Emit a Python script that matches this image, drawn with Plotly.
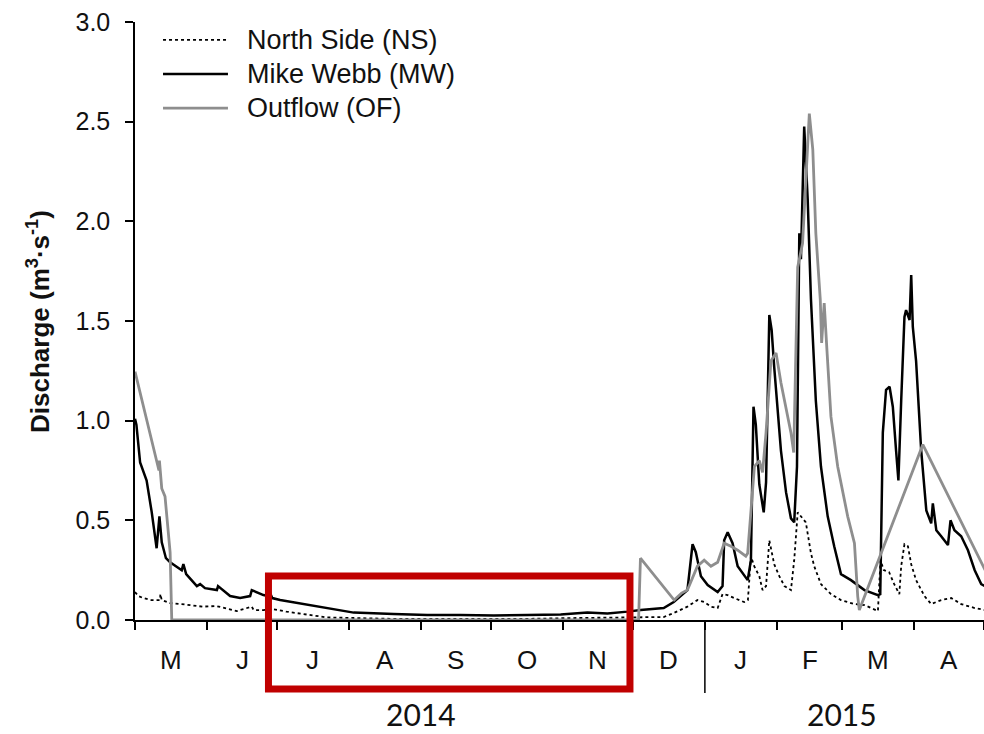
import pandas as pd
import plotly.graph_objects as go

START = pd.Timestamp("2014-05-01")

# ---- data (days after 1 May 2014, discharge m3/s) ----
ns_days = [0, 1.5, 3.6, 7, 10.8, 10.9, 11.5, 15.1, 20, 29, 35, 40, 43.8, 50.2, 51, 55.2, 59, 65.1,
           75.4, 82.5, 94, 110, 130, 150, 170, 190, 210, 220, 227.3, 231.6, 237.5, 241.8, 244.7,
           247.6, 250.5, 252.6, 254.8, 257.6, 261.9, 263.5, 264.8, 266.2, 268.4, 269.8, 271.3,
           272.7, 274.8, 277.0, 279.2, 282, 283.4, 284.9, 286.3, 288.4, 290.6, 292, 294.9, 299.2,
           303.5, 309.3, 313.6, 319.4, 320.5, 321.9, 324.2, 326.4, 328.6, 329.4, 330.8, 332.3,
           333.7, 335.8, 339.4, 342.3, 346.6, 350.9, 355.2, 361, 365.5]
ns_vals = [0.14, 0.12, 0.11, 0.10, 0.10, 0.13, 0.10, 0.085, 0.08, 0.067, 0.07, 0.055, 0.045, 0.067,
           0.05, 0.05, 0.055, 0.042, 0.025, 0.013, 0.01, 0.006, 0.005, 0.004, 0.006, 0.01, 0.012,
           0.015, 0.015, 0.035, 0.067, 0.10, 0.09, 0.067, 0.06, 0.13, 0.125, 0.11, 0.09, 0.10,
           0.32, 0.27, 0.22, 0.15, 0.17, 0.40, 0.28, 0.22, 0.17, 0.15, 0.30, 0.54, 0.52, 0.49,
           0.335, 0.27, 0.18, 0.13, 0.10, 0.08, 0.075, 0.045, 0.30, 0.25, 0.24, 0.18, 0.13, 0.27,
           0.38, 0.37, 0.28, 0.20, 0.12, 0.08, 0.10, 0.11, 0.08, 0.06, 0.05]

mw_days = [0, 0.6, 2.2, 5.0, 7.2, 9.3, 10.5, 11.5, 13.3, 15.1, 20.1, 20.8, 22, 26.6, 28, 30.1,
           35.2, 35.7, 40.9, 45.2, 49.5, 50.2, 55.2, 57.3, 57.9, 59, 62.4, 71, 82.5, 94, 111.2,
           125.6, 139.9, 154.3, 168.7, 183, 194.5, 203.1, 211.7, 217.4, 227.3, 231.6, 237.5,
           239.7, 241.1, 243.3, 246.2, 250.5, 252.6, 253.3, 254.8, 256.9, 259.1, 261.9, 263.4,
           264.8, 265.9, 266.9, 268.4, 270.3, 271.3, 272.7, 273.7, 274.8, 276, 277.7, 279.9, 282,
           283.4, 284.6, 285.6, 286.3, 287.7, 289.2, 290.6, 292.7, 294.9, 297.8, 300.6, 303.5,
           307.8, 313.6, 319.4, 320.4, 321.5, 322.9, 324.4, 325.8, 327.2, 328.2, 329.4, 330.8,
           331.5, 333, 333.7, 334.4, 335.8, 338, 340.2, 342.3, 343, 344.5, 346.6, 349.5, 350.6,
           352.3, 355.2, 358.1, 361, 363.8, 365.5]
mw_vals = [1.01, 0.98, 0.79, 0.70, 0.54, 0.36, 0.52, 0.39, 0.31, 0.29, 0.25, 0.28, 0.23, 0.17,
           0.18, 0.16, 0.15, 0.17, 0.12, 0.11, 0.12, 0.15, 0.125, 0.12, 0.14, 0.11, 0.10, 0.083,
           0.06, 0.037, 0.03, 0.025, 0.025, 0.022, 0.025, 0.028, 0.038, 0.033, 0.042, 0.05, 0.06,
           0.09, 0.15, 0.38, 0.34, 0.22, 0.175, 0.14, 0.17, 0.40, 0.44, 0.385, 0.27, 0.22, 0.20,
           0.30, 1.07, 0.98, 0.68, 0.54, 0.69, 1.53, 1.455, 1.27, 1.10, 0.85, 0.64, 0.51, 0.49,
           0.77, 1.94, 1.81, 2.475, 2.11, 1.61, 1.10, 0.77, 0.52, 0.37, 0.23, 0.20, 0.15, 0.125,
           0.13, 0.94, 1.155, 1.17, 1.07, 0.85, 0.70, 1.10, 1.52, 1.555, 1.505, 1.73, 1.47, 1.30,
           0.85, 0.55, 0.485, 0.585, 0.45, 0.42, 0.376, 0.50, 0.45, 0.42, 0.35, 0.25, 0.18, 0.17]

of_days = [0, 8.6, 10.3, 10.5, 11.5, 12.9, 13.6, 15.1, 15.8, 216.5, 217.3, 231.8, 235, 237.5,
           241.8, 244.7, 247.6, 250.5, 253.3, 256.2, 259.1, 262.6, 263.4, 266.3, 268.4, 269.8,
           271.3, 273.4, 275.6, 277.7, 282, 283.2, 284.9, 287, 289.9, 291.4, 292.7, 294.6, 295.2,
           296.3, 297.5, 299.2, 302.1, 306.4, 309.3, 310.7, 311.4, 338.7, 365.5]
of_vals = [1.246, 0.84, 0.75, 0.80, 0.66, 0.62, 0.54, 0.34, 0.0, 0.0, 0.31, 0.10, 0.135, 0.15,
           0.27, 0.30, 0.27, 0.29, 0.385, 0.37, 0.35, 0.32, 0.335, 0.77, 0.80, 0.74, 0.94, 1.30,
           1.34, 1.19, 0.94, 0.84, 1.77, 1.89, 2.54, 2.36, 1.94, 1.61, 1.39, 1.59, 1.35, 1.02,
           0.77, 0.52, 0.385, 0.12, 0.05, 0.88, 0.25]

month_letters = ["M", "J", "J", "A", "S", "O", "N", "D", "J", "F", "M", "A"]
month_starts = pd.date_range("2014-05-01", "2015-05-01", freq="MS")
year_labels = ["2014", "2015"]
year_label_dates = ["2014-09-01", "2015-03-01"]
y_ticks = [0.0, 0.5, 1.0, 1.5, 2.0, 2.5, 3.0]
series_names = ["North Side (NS)", "Mike Webb (MW)", "Outflow (OF)"]


def to_dates(days):
    return START + pd.to_timedelta(days, unit="D")


FONT = "Liberation Sans, Arial, sans-serif"
styles = [dict(color="black", width=1.8, dash="dot"),
          dict(color="black", width=2.5),
          dict(color="#8e8e8e", width=2.8)]

fig = go.Figure()
for name, d, v, st in zip(series_names, [ns_days, mw_days, of_days],
                          [ns_vals, mw_vals, of_vals], styles):
    fig.add_trace(go.Scatter(x=to_dates(d), y=v, mode="lines", name=name,
                             line=st, showlegend=False))

shapes = []
annotations = []

# manual legend
leg_y = [0.970, 0.913, 0.856]
for name, st, yy in zip(series_names, styles, leg_y):
    shapes.append(dict(type="line", xref="paper", yref="paper", x0=0.033, x1=0.1095,
                       y0=yy, y1=yy, line=st))
    annotations.append(dict(xref="paper", yref="paper", x=0.1296, y=yy, text=name,
                            showarrow=False, xanchor="left", yanchor="middle",
                            font=dict(family=FONT, size=27, color="#111")))

# month labels centred in each month
for i, letter in enumerate(month_letters):
    mid = month_starts[i] + (month_starts[i + 1] - month_starts[i]) / 2
    annotations.append(dict(xref="x", yref="paper", x=mid, y=-0.067, text=letter,
                            showarrow=False, xanchor="center", yanchor="middle",
                            font=dict(family=FONT, size=26, color="#111")))

# year labels
for lab, dt in zip(year_labels, year_label_dates):
    annotations.append(dict(xref="x", yref="paper", x=dt, y=-0.158, text=lab,
                            showarrow=False, xanchor="center", yanchor="middle",
                            font=dict(family="Lato, Open Sans, sans-serif", size=30, color="#111")))

# y-axis title
annotations.append(dict(xref="paper", yref="paper", x=-0.1143, y=0.5,
                        text="Discharge (m<sup>3</sup>·s<sup>-1</sup>)", textangle=-90,
                        showarrow=False, xanchor="center", yanchor="middle",
                        font=dict(family=FONT, size=26, color="#111", weight="bold")))

# year separator line
shapes.append(dict(type="line", xref="x", yref="paper", x0="2015-01-01", x1="2015-01-01",
                   y0=0, y1=-0.122, line=dict(color="black", width=1.5)))

# red highlight rectangle
shapes.append(dict(type="rect", xref="paper", yref="paper", x0=0.1572, x1=0.583,
                   y0=0.0736, y1=-0.1154, line=dict(color="#C00000", width=7),
                   fillcolor="rgba(0,0,0,0)"))

fig.update_layout(
    width=984, height=734,
    margin=dict(l=135, r=0, t=22, b=114),
    paper_bgcolor="white", plot_bgcolor="white",
    shapes=shapes, annotations=annotations,
    xaxis=dict(type="date", range=["2014-05-01", "2015-05-01"],
               tickvals=list(month_starts), showticklabels=False,
               ticks="outside", ticklen=8, tickwidth=1.5, tickcolor="black",
               showline=True, linecolor="black", linewidth=1.5,
               showgrid=False, zeroline=False),
    yaxis=dict(range=[0, 3.0], tickvals=y_ticks, tickformat=".1f",
               ticks="outside", ticklen=8, tickwidth=1.5, tickcolor="black",
               ticklabelstandoff=10,
               tickfont=dict(family=FONT, size=25, color="#111"),
               showline=True, linecolor="black", linewidth=1.5,
               showgrid=False, zeroline=False),
)

fig.write_html("out.html")
